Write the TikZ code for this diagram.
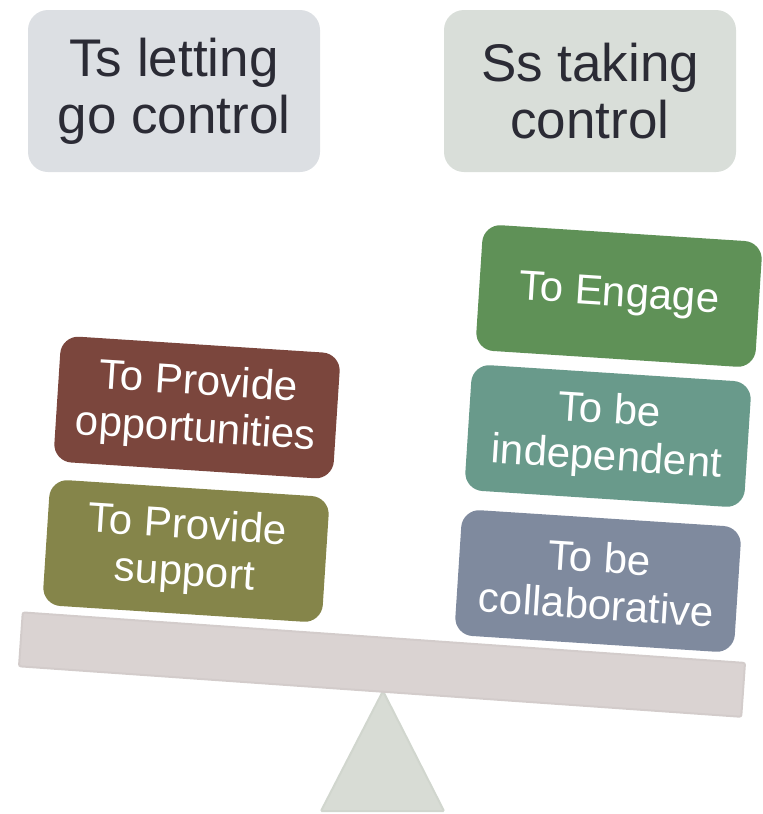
\documentclass[tikz,border=0pt]{standalone}
\usepackage{fontspec}
\setmainfont{Liberation Sans}
\definecolor{titregauche}{HTML}{DCDFE3}
\definecolor{titredroite}{HTML}{D9DED9}
\definecolor{textetitre}{HTML}{2B2B35}
\definecolor{brun}{HTML}{7B463D}
\definecolor{olive}{HTML}{85854A}
\definecolor{vert}{HTML}{5F9157}
\definecolor{sarcelle}{HTML}{699A8B}
\definecolor{ardoise}{HTML}{7F8A9E}
\definecolor{poutre}{HTML}{DAD3D2}
\definecolor{poutrebord}{HTML}{D3CCCB}
\definecolor{pied}{HTML}{D8DCD5}
\definecolor{piedbord}{HTML}{D1D6CE}

\begin{document}
\begin{tikzpicture}[x=1pt,y=-1pt]
\tikzset{titre/.style={rounded corners=20pt, minimum width=292pt, minimum height=162pt, align=center, text=textetitre, font=\fontsize{53}{57}\selectfont}}
\tikzset{boite/.style={rounded corners=18pt, minimum width=280pt, minimum height=126pt, align=center, text=white, rotate=-3.7, font=\fontsize{42}{47}\selectfont}}
\tikzset{fleau/.style={fill=poutre, draw=poutrebord, line width=2pt, rounded corners=2pt, minimum width=724pt, minimum height=54pt, rotate=-4}}
\useasboundingbox (0,0) rectangle (763,814);
\node[titre, fill=titregauche] (T1) at (174,91) {Ts letting\\go control};
\node[titre, fill=titredroite] (T2) at (590,91) {Ss taking\\control};
\coordinate (pivot) at (383,691);
\filldraw[fill=pied, draw=piedbord, line width=2pt, rounded corners=1pt] (pivot) -- (444,811) -- (321,811) -- cycle;
\node[fleau] (F) at (382,664.6) {};
\node[boite, fill=brun] (B1) at (197,407.5) {To Provide\\opportunities};
\node[boite, fill=olive] (B2) at (186,551) {To Provide\\support};
\node[boite, fill=vert] (B3) at (619,296) {To Engage};
\node[boite, fill=sarcelle] (B4) at (608,436) {To be\\independent};
\node[boite, fill=ardoise] (B5) at (598,581) {To be\\collaborative};
\end{tikzpicture}
\end{document}
